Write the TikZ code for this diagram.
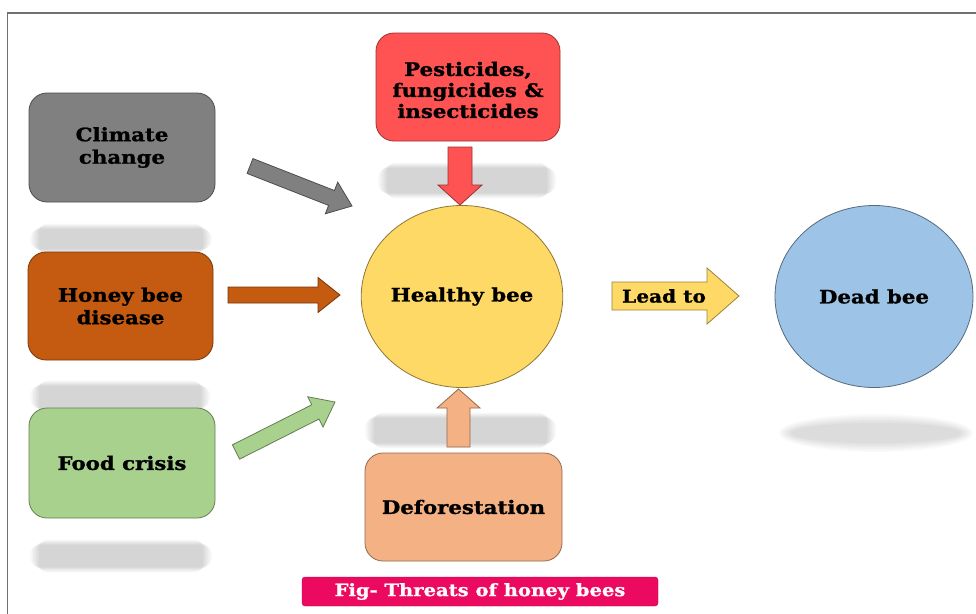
\documentclass[tikz,border=0pt]{standalone}
\usepackage{fontspec}
\setmainfont{DejaVu Serif}[BoldFont={DejaVu Serif Bold}, BoldFeatures={FakeStretch=1.15, FakeBold=1.2}]
\usetikzlibrary{calc,shapes.geometric}
\definecolor{cgray}{HTML}{808080}
\definecolor{cbrown}{HTML}{C55A11}
\definecolor{cgreen}{HTML}{A9D18E}
\definecolor{cred}{HTML}{FF5353}
\definecolor{cpeach}{HTML}{F4B183}
\definecolor{cyellow}{HTML}{FFD966}
\definecolor{cblue}{HTML}{9DC3E6}
\definecolor{cpink}{HTML}{EB0A5F}
\definecolor{frame}{HTML}{707070}
\tikzset{
  lbl/.style={font=\bfseries\fontsize{18.5}{22.5}\selectfont, align=center, text=black},
  box/.style={draw=#1!60!black, fill=#1, rounded corners=18pt, line width=0.8pt, inner sep=0pt},
  bee/.style={draw=#1!55!black, fill=#1, ellipse, line width=0.8pt},
  barr/.style={draw=#1!60!black, fill=#1, line width=0.8pt, line join=miter},
}
% block arrow: style, start, tip, shaft half width, head half width, head length
\newcommand\blockarr[6]{%
  \coordinate (hb) at ($(#3)!#6!(#2)$);
  \draw[#1] ($(#2)!#4!90:(#3)$) -- ($(hb)!#4!-90:(#2)$) -- ($(hb)!#5!-90:(#2)$) -- (#3)
    -- ($(hb)!#5!90:(#2)$) -- ($(hb)!#4!90:(#2)$) -- ($(#2)!#4!-90:(#3)$) -- cycle;
}
\newcommand\blurband[4]{%
  \foreach \k in {0,...,6} {
    \fill[black, opacity=0.022, rounded corners=9pt]
      ({#1+\k*1.5},{#2-\k*0.9}) rectangle ({#3-\k*1.5},{#4+\k*0.9});
  }
}
\begin{document}
\begin{tikzpicture}[x=1pt,y=-1pt]
\useasboundingbox (0,0) rectangle (976,613);
\fill[white] (0,0) rectangle (976,613);
% frame
\draw[frame, line width=1.5pt] (7.5,620) -- (7.5,13) -- (980,13);

% shadows
\blurband{30}{229}{212}{249}
\blurband{30}{386}{210}{408}
\blurband{30}{545}{212}{567}
\blurband{378}{168}{556}{193}
\blurband{365}{418}{556}{443}
\foreach \k in {0,...,6} {
  \fill[black, opacity=0.02] (876,433) ellipse ({97-\k*2} and {19-\k*1.5});
}

% boxes
\node[box=cgray, minimum width=186pt, minimum height=109pt, lbl] (climate) at (122,147.5) {Climate\\change};
\node[box=cbrown, minimum width=185pt, minimum height=108pt, lbl] (disease) at (120.5,306) {Honey bee\\disease};
\node[box=cgreen, minimum width=186pt, minimum height=110pt, lbl] (food) at (122,463) {Food crisis};
\node[box=cred, minimum width=184pt, minimum height=108pt, lbl] (pest) at (468,87) {};
\node[lbl, inner sep=0pt, font=\bfseries\fontsize{18.5}{21}\selectfont] (pesttext) at (468,90) {Pesticides,\\fungicides \&\\insecticides};
\node[box=cpeach, minimum width=197pt, minimum height=108pt, lbl] (defor) at (463.5,507) {Deforestation};

% ellipses
\node[bee=cyellow, minimum width=201pt, minimum height=182pt, inner sep=0pt, lbl] (healthy) at (462,296.5) {Healthy bee};
\node[bee=cblue, minimum width=198pt, minimum height=182pt, inner sep=0pt, lbl] (dead) at (874,296.5) {Dead bee};

% arrow coordinates
\coordinate (gA) at (250,166);
\coordinate (gB) at (352,206);
\coordinate (bA) at (228,295);
\coordinate (bB) at (340,295);
\coordinate (fA) at (236,452);
\coordinate (fB) at (335,402);
\coordinate (rA) at (460,147);
\coordinate (rB) at (460,205);
\coordinate (pA) at (458.5,447);
\coordinate (pB) at (458.5,389);
\coordinate (lA) at (612,296);
\coordinate (lB) at (739,296);

\blockarr{barr=cgray}{gA}{gB}{8pt}{17pt}{22pt}
\blockarr{barr=cbrown}{bA}{bB}{8pt}{17.5pt}{22pt}
\blockarr{barr=cgreen}{fA}{fB}{8pt}{17pt}{22pt}
\blockarr{barr=cred}{rA}{rB}{12pt}{22pt}{20pt}
\blockarr{barr=cpeach}{pA}{pB}{11.5pt}{21.5pt}{19pt}
\blockarr{barr=cyellow}{lA}{lB}{14pt}{28pt}{32pt}
\node[lbl, inner sep=0pt, font=\bfseries\fontsize{17.5}{20}\selectfont] (leadto) at (664,296) {Lead to};

% caption
\node[fill=cpink, draw=cpink!80!black, rounded corners=3pt, minimum width=356pt, minimum height=29pt,
      text=white!90!pink, font=\bfseries\fontsize{17}{19}\selectfont] (caption) at (480,591.5) {Fig- Threats of honey bees};
\end{tikzpicture}
\end{document}
